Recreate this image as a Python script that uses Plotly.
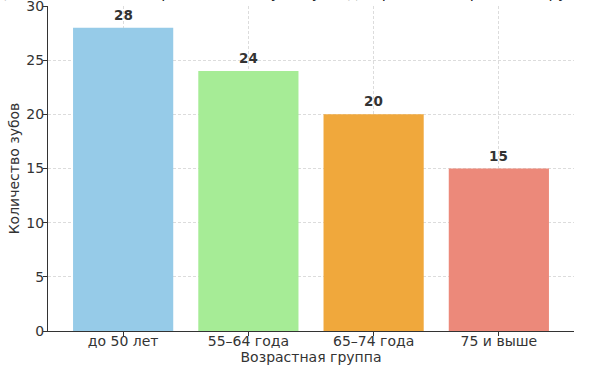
import plotly.graph_objects as go

categories = ["до 50 лет", "55–64 года", "65–74 года", "75 и выше"]
values = [28, 24, 20, 15]
colors = ["#96CBE8", "#A6EC96", "#F0A83C", "#EC897A"]
title_text = "Среднее количество сохранившихся зубов у людей разных возрастных групп, пример"

fig = go.Figure()
fig.add_trace(go.Bar(
    x=categories, y=values, marker=dict(color=colors, line=dict(width=0)),
    width=0.8, hoverinfo="skip",
))

for c, v in zip(categories, values):
    fig.add_annotation(x=c, y=v, text=f"<b>{v}</b>", showarrow=False,
                       yanchor="bottom", yshift=3,
                       font=dict(size=13.5, color="#333333", family="DejaVu Sans"))

fig.add_annotation(xref="paper", yref="paper", x=0.5, y=1, text=title_text,
                   showarrow=False, yanchor="middle", yshift=13,
                   font=dict(size=15, color="#222222", family="DejaVu Sans"))

fig.update_layout(
    width=600, height=365,
    margin=dict(l=48, r=26, t=6, b=34),
    paper_bgcolor="white", plot_bgcolor="white",
    font=dict(family="DejaVu Sans", size=14, color="#333333"),
    showlegend=False,
    bargap=0.2,
)
fig.update_xaxes(
    range=[-0.6, 3.6], showline=True, linecolor="#333333", linewidth=1.2,
    ticks="outside", ticklen=4, tickcolor="#333333", tickfont=dict(size=14),
    showgrid=True, gridcolor="#dcdcdc", griddash="3px,2px", gridwidth=1,
    layer="above traces", automargin=False, ticklabelstandoff=-7,
    title=dict(text="Возрастная группа", standoff=3, font=dict(size=14)),
)
fig.update_yaxes(
    range=[0, 30], dtick=5, showline=True, linecolor="#333333", linewidth=1.2,
    ticks="outside", ticklen=4, tickcolor="#333333", tickfont=dict(size=14),
    showgrid=True, gridcolor="#dcdcdc", griddash="3px,2px", gridwidth=1,
    zeroline=False, layer="above traces", automargin=False,
    ticklabelstandoff=-4, ticklabeloverflow="allow",
    title=dict(text="Количество зубов", standoff=3, font=dict(size=14)),
)

fig.write_html("out.html", config={"displayModeBar": False},
               post_script="document.body.style.margin='0';")
